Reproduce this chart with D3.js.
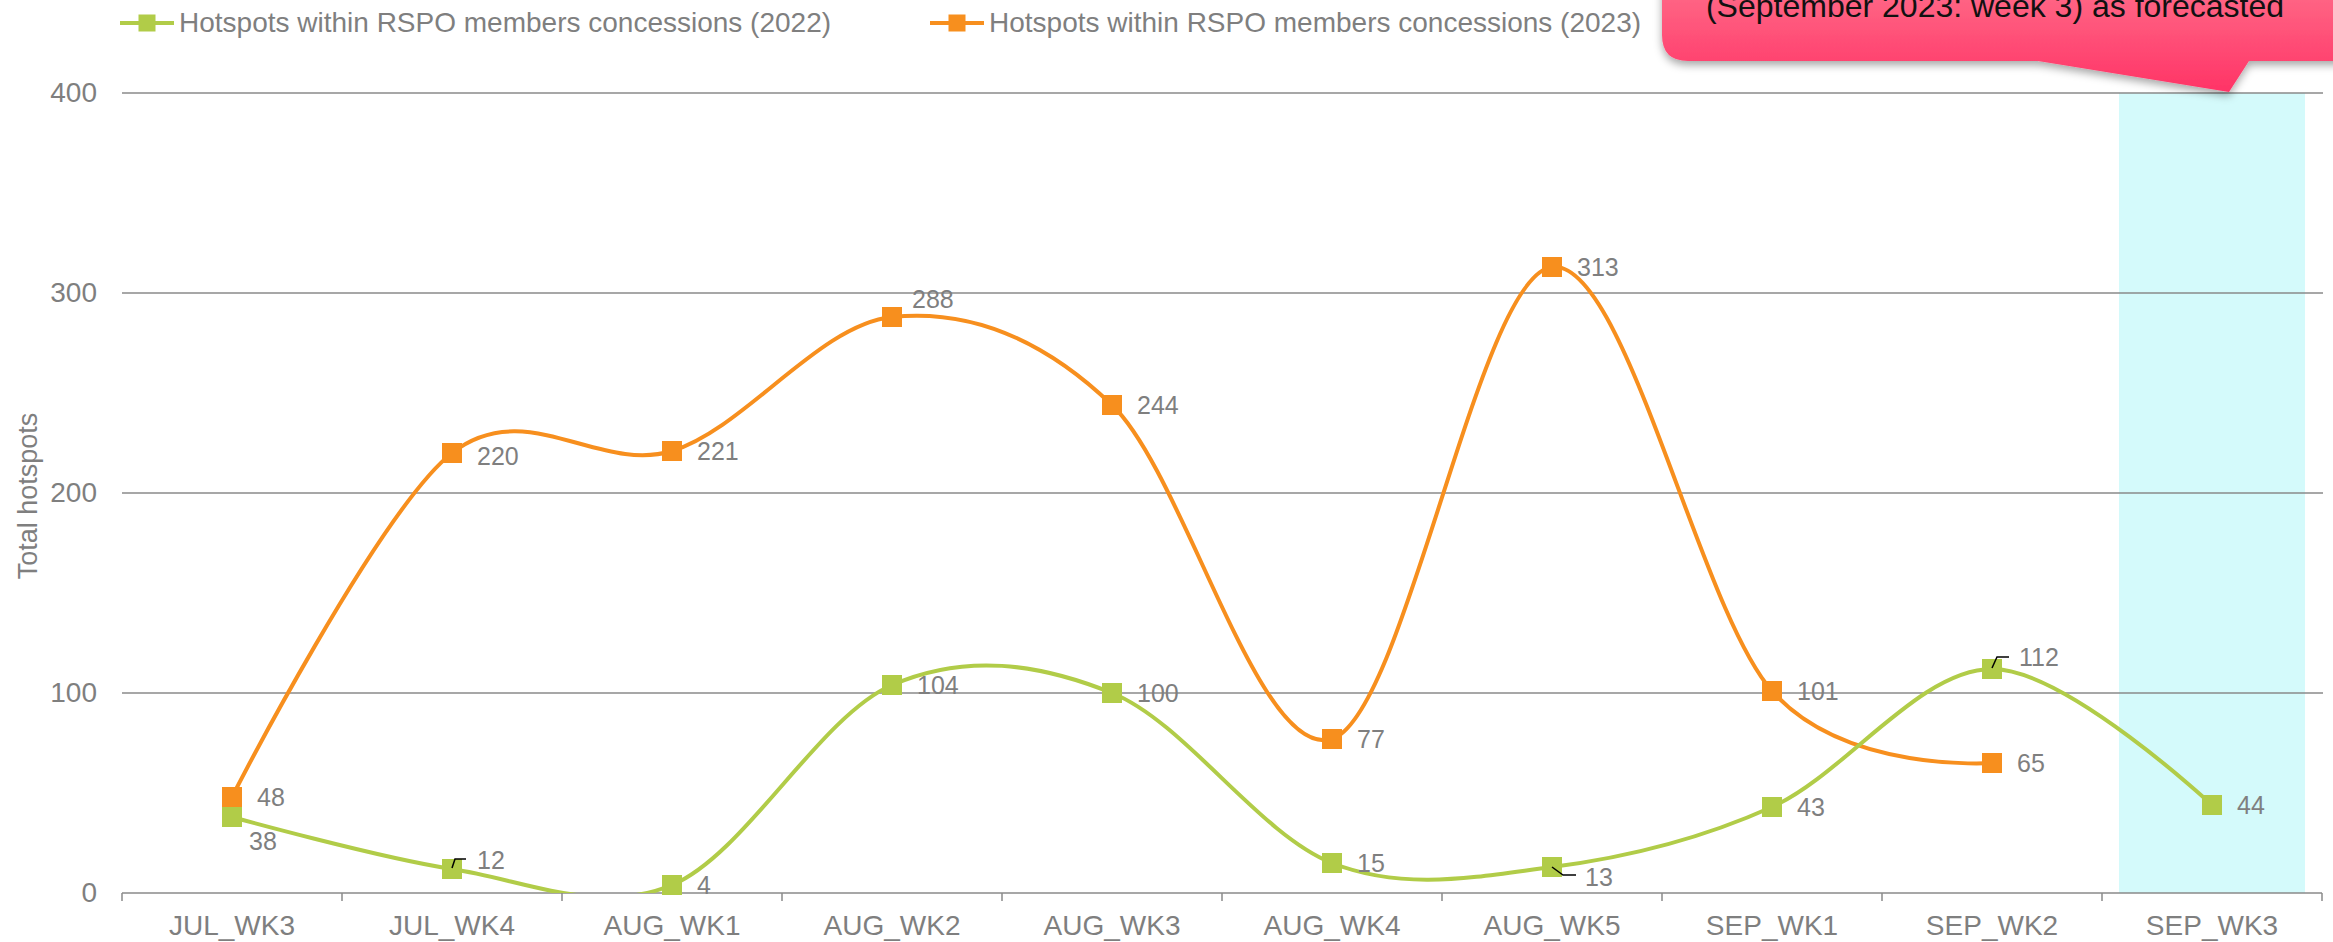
<!DOCTYPE html>
<html>
<head>
<meta charset="utf-8">
<script src="https://cdn.jsdelivr.net/npm/d3@7"></script>
<style>
  html, body { margin: 0; padding: 0; background: #fff; }
  svg { display: block; font-family: "Liberation Sans", Arial, sans-serif; }
</style>
</head>
<body>
<svg id="chart" width="2333" height="942"></svg>
<script>
// ---- Data ----
const categories = ["JUL_WK3","JUL_WK4","AUG_WK1","AUG_WK2","AUG_WK3","AUG_WK4","AUG_WK5","SEP_WK1","SEP_WK2","SEP_WK3"];
const values2022 = [38, 12, 4, 104, 100, 15, 13, 43, 112, 44];
const values2023 = [48, 220, 221, 288, 244, 77, 313, 101, 65, null];
const yTicks = [0, 100, 200, 300, 400];
const seriesNames = ["Hotspots within RSPO members concessions (2022)", "Hotspots within RSPO members concessions (2023)"];
const forecastCategory = "SEP_WK3";
const calloutText = "(September 2023: week 3) as forecasted";
const yTitle = "Total hotspots";

// ---- Layout / style (not data) ----
const W = 2333, H = 942;
const plot = { left: 122, right: 2322, top: 93, bottom: 893 };
const colors = { g: "#b1cc48", o: "#f78f1e", grid: "#8a8a8a", text: "#7f7f7f", cyan: "#d4fafb" };
const labelOffset2022 = [[17,24],[25,-9],[25,0],[25,0],[25,0],[25,0],[33,10],[25,0],[27,-12],[25,0]];
const labelOffset2023 = [[25,0],[25,3],[25,0],[20,-18],[25,0],[25,0],[25,0],[25,0],[25,0]];
const leaders2022 = { 1: [[0,-1],[3,-10],[14,-10]], 6: [[0,0],[11,8],[24,8]], 8: [[0,-1],[5,-12],[17,-12]] };

const svg = d3.select("#chart");
const x = d3.scaleBand().domain(categories).range([plot.left, plot.right]).padding(0);
const y = d3.scaleLinear().domain([0, 400]).range([plot.bottom, plot.top]);
const cx = c => x(c) + x.bandwidth() / 2;

const defs = svg.append("defs");
defs.append("clipPath").attr("id", "plotclip").append("rect")
  .attr("x", plot.left).attr("y", plot.top - 20).attr("width", plot.right - plot.left).attr("height", plot.bottom - plot.top + 20);
const grad = defs.append("linearGradient").attr("id", "pinkgrad")
  .attr("gradientUnits", "userSpaceOnUse").attr("x1", 0).attr("y1", -40).attr("x2", 0).attr("y2", 92);
grad.append("stop").attr("offset", "0%").attr("stop-color", "#ff7890");
grad.append("stop").attr("offset", "100%").attr("stop-color", "#ff3366");
const shadow = defs.append("filter").attr("id", "shadow").attr("x", "-10%").attr("y", "-10%").attr("width", "130%").attr("height", "150%");
shadow.append("feDropShadow").attr("dx", 0).attr("dy", 4).attr("stdDeviation", 4).attr("flood-color", "#000").attr("flood-opacity", 0.35);

// forecast band
const fb = x(forecastCategory);
svg.append("rect").attr("x", fb + 17).attr("y", plot.top).attr("width", x.bandwidth() - 34).attr("height", plot.bottom - plot.top)
  .attr("fill", colors.cyan);

// gridlines
svg.append("g").selectAll("line").data(yTicks.filter(d => d > 0)).join("line")
  .attr("x1", plot.left).attr("x2", plot.right + 1)
  .attr("y1", d => y(d)).attr("y2", d => y(d))
  .attr("stroke", colors.grid).attr("stroke-width", 1.5);

// x axis
const xAxis = d3.axisBottom(x).tickSize(0).tickPadding(0);
const gx = svg.append("g").attr("transform", `translate(0,${plot.bottom})`).call(xAxis);
gx.select(".domain").attr("stroke", colors.grid).attr("stroke-width", 1.5).attr("d", `M${plot.left},0H${plot.right}`);
gx.selectAll(".tick text").attr("y", 42).attr("dy", 0).attr("fill", colors.text).attr("font-size", 28)
  .attr("font-family", "Liberation Sans, Arial, sans-serif");
const bounds = categories.map(c => x(c)).concat([plot.right]);
gx.selectAll(".bound").data(bounds).join("line").attr("class", "bound")
  .attr("x1", d => d).attr("x2", d => d).attr("y1", 0).attr("y2", 8)
  .attr("stroke", colors.grid).attr("stroke-width", 1.5);

// y axis labels
const yAxis = d3.axisLeft(y).tickValues(yTicks).tickSize(0).tickPadding(25);
const gy = svg.append("g").attr("transform", `translate(${plot.left},0)`).call(yAxis);
gy.select(".domain").remove();
gy.selectAll(".tick text").attr("fill", colors.text).attr("font-size", 28).attr("font-family", "Liberation Sans, Arial, sans-serif");

// y title
svg.append("text").attr("transform", `translate(37,${(plot.top + plot.bottom) / 2 + 3}) rotate(-90)`)
  .attr("text-anchor", "middle").attr("fill", colors.text).attr("font-size", 27).text(yTitle);

// lines
const line = d3.line().defined(d => d.v != null).x(d => cx(d.c)).y(d => y(d.v)).curve(d3.curveCatmullRom.alpha(0));
const s2022 = categories.map((c, i) => ({ c, v: values2022[i], i }));
const s2023 = categories.map((c, i) => ({ c, v: values2023[i], i })).filter(d => d.v != null);

const plotG = svg.append("g").attr("clip-path", "url(#plotclip)");
plotG.append("path").datum(s2023).attr("d", line).attr("fill", "none").attr("stroke", colors.o).attr("stroke-width", 4);
plotG.append("path").datum(s2022).attr("d", line).attr("fill", "none").attr("stroke", colors.g).attr("stroke-width", 4);

function markers(data, color) {
  svg.append("g").selectAll("rect").data(data).join("rect")
    .attr("x", d => cx(d.c) - 10).attr("y", d => y(d.v) - 10).attr("width", 20).attr("height", 20).attr("fill", color);
}
markers(s2023, colors.o);
markers(s2022, colors.g);

// leader lines
Object.keys(leaders2022).forEach(k => {
  const d = s2022[+k];
  const pts = leaders2022[k].map(p => [cx(d.c) + p[0], y(d.v) + p[1]]);
  svg.append("path").attr("d", d3.line()(pts)).attr("fill", "none").attr("stroke", "#000").attr("stroke-width", 1.5);
});

// labels
function labels(data, offsets) {
  svg.append("g").selectAll("text").data(data).join("text")
    .attr("x", d => cx(d.c) + offsets[d.i][0])
    .attr("y", d => y(d.v) + offsets[d.i][1] + 9)
    .attr("fill", colors.text).attr("font-size", 25).text(d => d.v);
}
labels(s2023, labelOffset2023);
labels(s2022, labelOffset2022);

// legend
function legendItem(x0, color, text) {
  const g = svg.append("g");
  g.append("line").attr("x1", x0).attr("x2", x0 + 54).attr("y1", 23).attr("y2", 23).attr("stroke", color).attr("stroke-width", 4);
  g.append("rect").attr("x", x0 + 18.5).attr("y", 14.5).attr("width", 17).attr("height", 17).attr("fill", color);
  g.append("text").attr("x", x0 + 59).attr("y", 32).attr("fill", colors.text).attr("font-size", 28).text(text);
}
legendItem(120, colors.g, seriesNames[0]);
legendItem(930, colors.o, seriesNames[1]);

// callout
const bx0 = 1662, bx1 = 2400, by0 = -80, by1 = 61, r = 26;
const tip = [2229, 92], baseL = 2038, baseR = 2249;
const p = `M${bx0 + r},${by0} H${bx1} V${by1} H${baseR} L${tip[0]},${tip[1]} L${baseL},${by1} H${bx0 + r} Q${bx0},${by1} ${bx0},${by1 - r} V${by0 + r} Q${bx0},${by0} ${bx0 + r},${by0} Z`;
svg.append("path").attr("d", p).attr("fill", "url(#pinkgrad)").attr("filter", "url(#shadow)");
svg.append("text").attr("x", 1995).attr("y", 17).attr("text-anchor", "middle").attr("fill", "#111")
  .attr("font-size", 32).text(calloutText);
</script>
</body>
</html>
